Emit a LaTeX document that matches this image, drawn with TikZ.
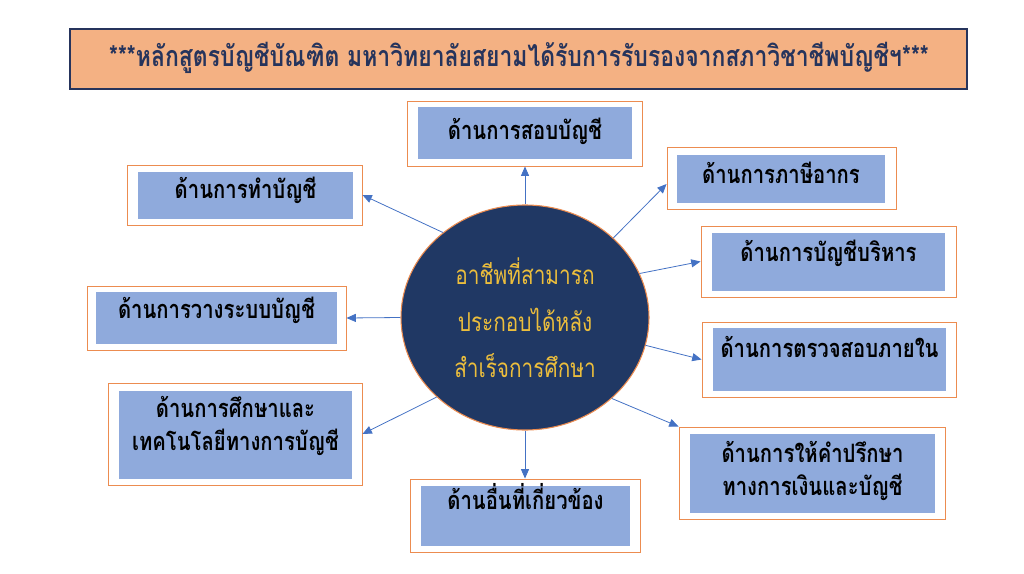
\documentclass[tikz,border=0pt]{standalone}
\usepackage{fontspec}
\newfontfamily\thaifont[Script=Thai,FakeStretch=0.8]{Loma}
\usetikzlibrary{shapes.geometric,arrows.meta}
\definecolor{boxorange}{RGB}{236,140,80}
\definecolor{boxblue}{RGB}{143,170,220}
\definecolor{hubnavy}{RGB}{32,56,100}
\definecolor{titlepeach}{RGB}{244,177,131}
\definecolor{titlenavy}{RGB}{38,52,92}
\definecolor{arrowblue}{RGB}{68,114,196}
\definecolor{hubgold}{RGB}{236,190,60}
\tikzset{
    outerbox/.style={draw=boxorange,line width=0.7pt,fill=white,inner sep=0pt},
    innerbox/.style={fill=boxblue,inner sep=0pt},
    lbl/.style={font=\thaifont\bfseries\fontsize{19}{24.75}\selectfont,align=center,text=black,inner sep=0pt},
    link/.style={draw=arrowblue,line width=0.6pt,-{Triangle[length=7pt,width=6pt]}},
}
\begin{document}
\begin{tikzpicture}[x=0.75pt,y=-0.75pt]
\useasboundingbox (0,0) rectangle (1024,574);
\node[draw=titlenavy,line width=1.5pt,fill=titlepeach,minimum width=672.75pt,minimum height=45pt,inner sep=0pt] (title) at (518.5,59) {};
\node[font=\thaifont\bfseries\fontsize{21.5}{24}\selectfont,text=titlenavy,inner sep=0pt] (titletxt) at (519,58) {***หลักสูตรบัญชีบัณฑิต มหาวิทยาลัยสยามได้รับการรับรองจากสภาวิชาชีพบัญชีฯ***};
\node[ellipse,draw=boxorange,line width=0.8pt,fill=hubnavy,minimum width=186pt,minimum height=168.75pt,inner sep=0pt] (hub) at (525,317.5) {};
\node[font=\thaifont\fontsize{19.5}{34.9}\selectfont,text=hubgold,align=center,inner sep=0pt] (hubtxt) at (525,318) {อาชีพที่สามารถ\\ประกอบได้หลัง\\สำเร็จการศึกษา};
\node[outerbox,minimum width=176.25pt,minimum height=48.75pt] (audit) at (525,133.5) {};
\node[innerbox,minimum width=160.5pt,minimum height=39pt] (auditin) at (525,133) {};
\node[lbl] (audittxt) at (525,131) {ด้านการสอบบัญชี};
\node[outerbox,minimum width=171.75pt,minimum height=46.5pt] (tax) at (781.5,178) {};
\node[innerbox,minimum width=156pt,minimum height=36pt] (taxin) at (781,179) {};
\node[lbl] (taxtxt) at (781,173) {ด้านการภาษีอากร};
\node[outerbox,minimum width=191.25pt,minimum height=53.25pt] (mgmt) at (828.5,261.5) {};
\node[innerbox,minimum width=174.75pt,minimum height=43.5pt] (mgmtin) at (828.5,262) {};
\node[lbl] (mgmttxt) at (828.5,253) {ด้านการบัญชีบริหาร};
\node[outerbox,minimum width=190.5pt,minimum height=56.25pt] (intaudit) at (829,359.5) {};
\node[innerbox,minimum width=174.75pt,minimum height=47.25pt] (intauditin) at (829.5,359.5) {};
\node[lbl] (intaudittxt) at (829.5,347) {ด้านการตรวจสอบภายใน};
\node[outerbox,minimum width=199.5pt,minimum height=69pt] (advise) at (812,473) {};
\node[innerbox,minimum width=183.75pt,minimum height=59.25pt] (advisein) at (812.5,473.5) {};
\node[lbl] (advisetxt) at (812.5,471) {ด้านการให้คำปรึกษา\\ทางการเงินและบัญชี};
\node[outerbox,minimum width=172.5pt,minimum height=54.75pt] (other) at (525,515.5) {};
\node[innerbox,minimum width=156.75pt,minimum height=45pt] (otherin) at (525.5,516) {};
\node[lbl] (othertxt) at (525.5,497) {ด้านอื่นที่เกี่ยวข้อง};
\node[outerbox,minimum width=190.5pt,minimum height=76.5pt] (study) at (235,434) {};
\node[innerbox,minimum width=174.75pt,minimum height=66pt] (studyin) at (235.5,435) {};
\node[lbl] (studytxt) at (235.5,426) {ด้านการศึกษาและ\\เทคโนโลยีทางการบัญชี};
\node[outerbox,minimum width=194.25pt,minimum height=48pt] (system) at (216.5,318) {};
\node[innerbox,minimum width=180.75pt,minimum height=39pt] (systemin) at (216.5,318) {};
\node[lbl] (systemtxt) at (216.5,310) {ด้านการวางระบบบัญชี};
\node[outerbox,minimum width=176.25pt,minimum height=45pt] (cook) at (244.5,195) {};
\node[innerbox,minimum width=161.25pt,minimum height=35.25pt] (cookin) at (245.5,195.5) {};
\node[lbl] (cooktxt) at (245.5,190) {ด้านการทำบัญชี};
\draw[link] (hub.north) -- (audit.south);
\draw[link] (hub.42) -- (tax.183);
\draw[link] (hub.21) -- (mgmt.west);
\draw[link] (hub.347) -- (intaudit.west);
\draw[link] (hub.317) -- (advise.north west);
\draw[link] (hub.south) -- (other.north);
\draw[link] (hub.222) -- (study.east);
\draw[link] (hub.west) -- (system.east);
\draw[link] (hub.134) -- (cook.east);
\end{tikzpicture}
\end{document}
